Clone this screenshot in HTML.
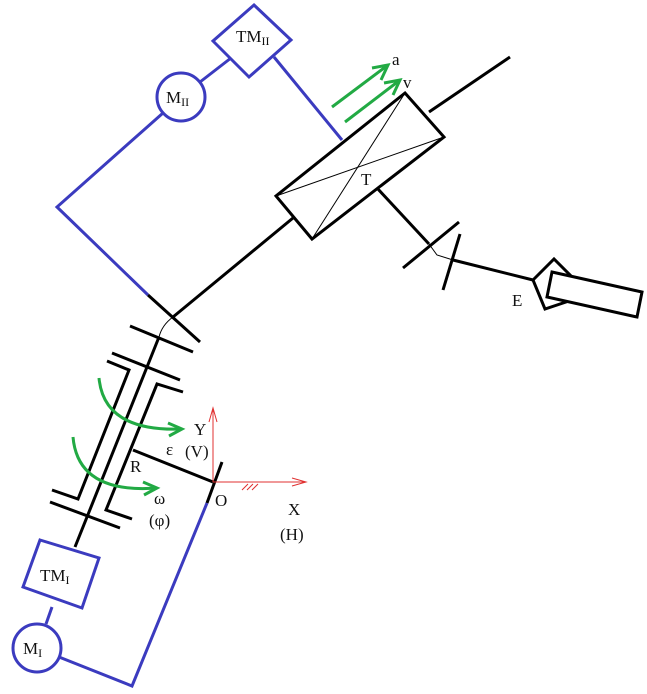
<!DOCTYPE html>
<html><head><style>body{margin:0;background:#fff}svg{display:block}text{font-family:"Liberation Serif",serif;fill:#111}</style></head><body>
<svg width="647" height="694" viewBox="0 0 647 694">
<g stroke="#3b3bbf" stroke-width="3" fill="none">
<polygon points="254,5 291,40 249,77 213,41"/>
<circle cx="181" cy="97" r="24"/>
<line x1="200" y1="82" x2="231" y2="58"/>
<line x1="274" y1="57" x2="342" y2="140"/>
<polyline points="163,113 57,207 148,295"/>
<polygon points="40,540 99,558 82,608 23,587"/>
<circle cx="37" cy="648" r="24"/>
<line x1="46" y1="624" x2="52" y2="607"/>
<polyline points="207,503 132,686 59,657"/>
</g>
<g stroke="#000" stroke-width="3" fill="none">
<line x1="148" y1="295" x2="200" y2="342"/>
<line x1="173" y1="317" x2="293" y2="218"/>
<line x1="429" y1="112" x2="510" y2="57"/>
<polygon points="405,93 444,137 312,239 276,196"/>
<line x1="377" y1="188" x2="429" y2="244"/>
<line x1="403" y1="268" x2="459" y2="222"/>
<line x1="460" y1="234" x2="443" y2="290"/>
<line x1="453" y1="260" x2="533" y2="280"/>
<polygon points="533,280 554,259 572,277 566,302 545,309"/>
<polygon points="552,272 642,292 637,317 547,297" fill="#fff"/>
<line x1="159" y1="337" x2="75" y2="547"/>
<line x1="130" y1="326" x2="193" y2="352"/>
<line x1="112" y1="353" x2="180" y2="380"/>
<polyline points="107,361 129,370 78,499 52,490"/>
<polyline points="183,392 157,384 106,510 132,519"/>
<line x1="50" y1="502" x2="120" y2="528"/>
<line x1="133" y1="450" x2="213" y2="482"/>
<line x1="222" y1="462" x2="207" y2="503"/>
</g>
<g stroke="#000" stroke-width="1" fill="none">
<line x1="405" y1="93" x2="312" y2="239"/>
<line x1="444" y1="137" x2="276" y2="196"/>
<polyline points="429,244 437,255 453,260"/>
<path d="M173,317 Q162,325 159,337"/>
</g>
<g stroke="#e03030" stroke-width="1" fill="none">
<line x1="213" y1="482" x2="213" y2="408"/>
<polyline points="209,422 213,408 217,422"/>
<line x1="213" y1="482" x2="306" y2="482"/>
<polyline points="292,478 306,482 292,486"/>
<path d="M242,490 l6,-6 M247,490 l6,-6 M252,490 l6,-6"/>
</g>
<g stroke="#22aa44" stroke-width="3" fill="none">
<line x1="332" y1="107" x2="388" y2="65"/>
<polyline points="372,68 388,65 381,80"/>
<line x1="345" y1="122" x2="400" y2="80"/>
<polyline points="384,83 400,80 393,95"/>
<path d="M99,378 Q104,432 182,429"/>
<polyline points="168,423 182,429 169,436"/>
<path d="M73,437 Q78,494 157,488"/>
<polyline points="143,482 157,488 144,495"/>
</g>
<g font-size="17">
<text x="236" y="42">TM<tspan font-size="12" dy="3">II</tspan></text>
<text x="166" y="103">M<tspan font-size="12" dy="3">II</tspan></text>
<text x="40" y="581">TM<tspan font-size="12" dy="3">I</tspan></text>
<text x="23" y="654">M<tspan font-size="12" dy="3">I</tspan></text>
<text x="392" y="65">a</text>
<text x="403" y="88">v</text>
<text x="361" y="185">T</text>
<text x="512" y="306">E</text>
<text x="194" y="435">Y</text>
<text x="166" y="455">ε</text>
<text x="185" y="457">(V)</text>
<text x="130" y="472">R</text>
<text x="215" y="506">O</text>
<text x="154" y="504">ω</text>
<text x="149" y="526">(φ)</text>
<text x="288" y="515">X</text>
<text x="280" y="540">(H)</text>
</g>
</svg>
</body></html>
